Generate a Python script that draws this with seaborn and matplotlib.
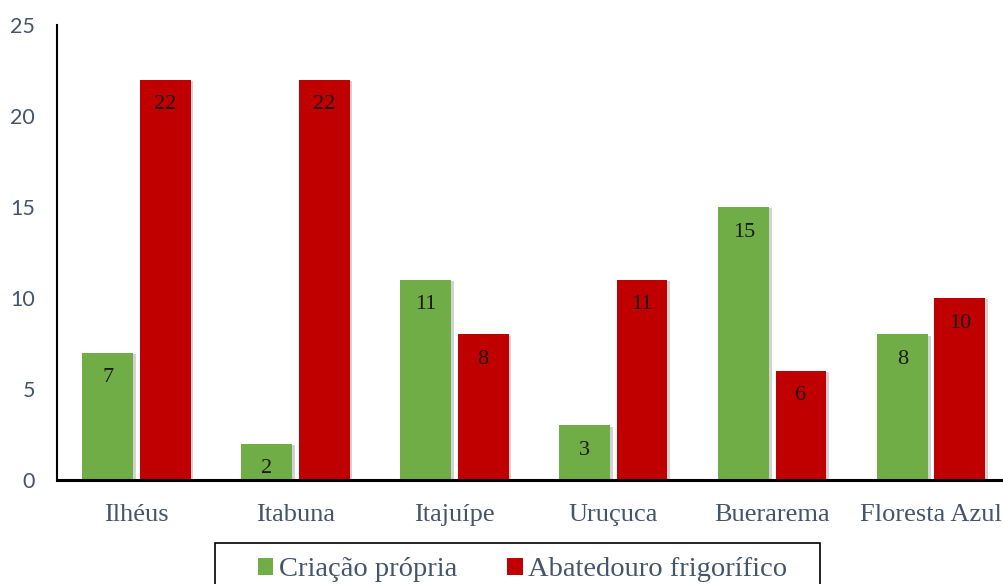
import pandas as pd
import matplotlib
matplotlib.use("Agg")
import matplotlib.pyplot as plt
import matplotlib.patheffects as pe
from matplotlib.patches import Rectangle
import seaborn as sns

cidades = ["Ilhéus", "Itabuna", "Itajuípe", "Uruçuca", "Buerarema", "Floresta Azul"]
criacao_propria = [7, 2, 11, 3, 15, 8]
abatedouro = [22, 22, 8, 11, 6, 10]
series = ["Criação própria", "Abatedouro frigorífico"]
cores = ["#70AD47", "#C00000"]
yticks = [0, 5, 10, 15, 20, 25]

Data = pd.DataFrame({
    "Cidade": cidades * 2,
    "Valor": criacao_propria + abatedouro,
    "Origem": [series[0]] * len(cidades) + [series[1]] * len(cidades),
})

sns.set_style("white")
plt.rcParams["font.family"] = ["Liberation Serif", "DejaVu Serif"]

fig = plt.figure(figsize=(10.04, 5.84), dpi=100)
ax = fig.add_axes([0.0568, 0.178, 0.950, 0.779])

sns.barplot(data=Data, x="Cidade", y="Valor", hue="Origem", palette=cores,
            width=0.72, gap=0.11, saturation=1, linewidth=0, ax=ax, legend=True)

for bar in ax.patches:
    bar.set_path_effects([pe.SimplePatchShadow(offset=(2, -1), shadow_rgbFace="#808080", alpha=0.35),
                          pe.Normal()])

for cont in ax.containers:
    for bar in cont:
        h = bar.get_height()
        ax.annotate(f"{h:.0f}", (bar.get_x() + bar.get_width() / 2, h),
                    xytext=(0, -25), textcoords="offset pixels",
                    ha="center", va="center", fontsize=16, color="#1a1a1a")

ax.set_xlim(-0.5, 5.5)
ax.set_ylim(0, 25)
ax.set_yticks(yticks)
ax.set_yticklabels([str(v) for v in yticks], family=["Lato", "DejaVu Sans"],
                   fontsize=15.5, color="#44546A")
ax.tick_params(axis="x", labelsize=19, labelcolor="#44546A", length=0, pad=17)
ax.tick_params(axis="y", length=0, pad=16)
ax.set_xlabel("")
ax.set_ylabel("")

for s in ["top", "right"]:
    ax.spines[s].set_visible(False)
ax.spines["left"].set_color("black")
ax.spines["left"].set_linewidth(1.5)
ax.spines["bottom"].set_color("black")
ax.spines["bottom"].set_linewidth(2.2)

handles, labels = ax.get_legend_handles_labels()
for h in handles:
    h.set_path_effects([])
ax.get_legend().remove()
leg = fig.legend(handles, labels, loc="upper center", bbox_to_anchor=(0.5204, 0.063),
                 ncol=2, frameon=False, fontsize=20.5,
                 handlelength=0.55, handleheight=0.55, handletextpad=0.2,
                 columnspacing=1.75, borderpad=0.35, borderaxespad=0)
for t in leg.get_texts():
    t.set_color("#44546A")

# caixa da legenda (cortada na borda inferior, como no original)
fig.patches.append(Rectangle((215 / 1004, -0.05), 605 / 1004, 0.05 + 41 / 584,
                             transform=fig.transFigure, fill=False,
                             edgecolor="black", linewidth=1.2))

fig.savefig("out.png", dpi=100)
